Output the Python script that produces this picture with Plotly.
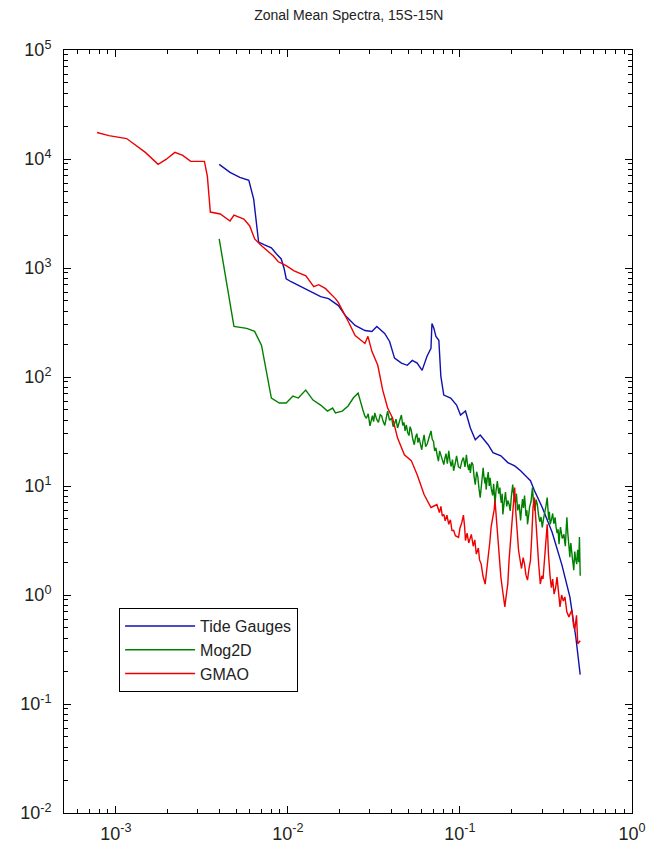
import plotly.graph_objects as go

# ---------------- data ----------------
tide_freq = [3.99e-3, 4.61e-3, 5.26e-3, 5.93e-3, 6.33e-3, 6.59e-3, 6.76e-3, 7.32e-3, 8.02e-3, 8.57e-3,
             9.15e-3, 9.52e-3, 9.78e-3, 1.044e-2, 1.192e-2, 1.36e-2, 1.551e-2, 1.724e-2, 1.967e-2, 2.157e-2,
             2.46e-2, 2.806e-2, 3.078e-2, 3.288e-2, 3.652e-2, 3.902e-2, 4.168e-2, 4.571e-2, 4.946e-2, 5.284e-2,
             5.644e-2, 6.028e-2, 6.438e-2, 6.787e-2, 6.877e-2, 7.061e-2, 7.25e-2, 7.542e-2, 7.744e-2, 8.056e-2,
             8.835e-2, 9.561e-2, 0.1008, 0.1077, 0.115, 0.1228, 0.1312, 0.1458, 0.1557, 0.173,
             0.1897, 0.2081, 0.2252, 0.247, 0.257, 0.2709, 0.301, 0.3434, 0.3917, 0.4354,
             0.4712, 0.5]
tide_power = [8930, 7550, 6790, 6380, 4280, 2430, 1730, 1630, 1530, 1350,
              1210, 984, 797, 748, 673, 607, 546, 524, 452, 366,
              297, 267, 262, 291, 251, 212, 149, 134, 128, 142,
              134, 115, 155, 183, 310, 279, 236, 217, 102, 68.2,
              64.1, 55.3, 44.8, 48.7, 34.1, 26.5, 29.4, 23.9, 20.2, 18.9,
              16.4, 15.3, 13.8, 11.9, 11.2, 9.08, 6.35, 3.76, 1.88, 0.96,
              0.414, 0.186]

mog_freq = [3.99e-3, 4.26e-3, 4.55e-3, 4.86e-3, 5.77e-3, 6.41e-3, 7.03e-3, 7.32e-3, 7.71e-3, 8.02e-3,
            8.92e-3, 9.78e-3, 1.07e-2, 1.15e-2, 1.27e-2, 1.40e-2, 1.55e-2, 1.70e-2, 1.82e-2, 1.89e-2,
            2.07e-2, 2.24e-2, 2.40e-2, 2.56e-2,
            2.73e-2, 2.80e-2, 2.86e-2, 2.93e-2, 3.00e-2, 3.05e-2, 3.10e-2, 3.15e-2, 3.20e-2, 3.28e-2,
            3.36e-2, 3.44e-2, 3.51e-2, 3.58e-2, 3.66e-2, 3.73e-2, 3.80e-2, 3.90e-2, 4.01e-2, 4.09e-2,
            4.17e-2, 4.25e-2, 4.34e-2, 4.45e-2, 4.57e-2, 4.65e-2, 4.73e-2, 4.80e-2, 4.88e-2, 4.97e-2,
            5.06e-2, 5.13e-2, 5.21e-2, 5.32e-2, 5.43e-2, 5.52e-2, 5.62e-2, 5.70e-2, 5.79e-2, 5.90e-2,
            6.00e-2, 6.10e-2, 6.19e-2, 6.32e-2, 6.46e-2, 6.62e-2, 6.79e-2, 6.90e-2, 7.02e-2, 7.13e-2,
            7.25e-2, 7.38e-2, 7.50e-2, 7.62e-2, 7.74e-2, 7.90e-2, 8.06e-2, 8.18e-2, 8.30e-2, 8.45e-2,
            8.61e-2, 8.75e-2, 8.90e-2, 9.05e-2, 9.19e-2, 9.38e-2, 9.56e-2, 9.80e-2, 0.1005, 0.1027,
            0.1048, 0.1070, 0.1091, 0.1108, 0.1125, 0.1138, 0.1150, 0.1170, 0.119, 0.121,
            0.1228, 0.125, 0.127, 0.129, 0.1312, 0.134, 0.1365, 0.138, 0.140, 0.141,
            0.1420, 0.144, 0.146, 0.148, 0.1497, 0.152, 0.155, 0.157, 0.1599, 0.162,
            0.165, 0.168, 0.1708, 0.172, 0.174, 0.176, 0.1776, 0.181, 0.184, 0.187,
            0.1897, 0.193, 0.196, 0.199, 0.2027, 0.206, 0.210, 0.213, 0.2165, 0.221,
            0.2252, 0.228, 0.231, 0.234, 0.2374, 0.240, 0.242, 0.245, 0.2470, 0.251,
            0.254, 0.259, 0.2638, 0.268, 0.273, 0.277, 0.2818, 0.286, 0.291, 0.296,
            0.3010, 0.306, 0.311, 0.316, 0.3215, 0.325, 0.328, 0.331, 0.3345, 0.340,
            0.346, 0.351, 0.3573, 0.362, 0.367, 0.372, 0.3766, 0.380, 0.384, 0.393,
            0.4022, 0.406, 0.410, 0.414, 0.4184, 0.423, 0.427, 0.431, 0.4354, 0.438,
            0.441, 0.450, 0.4589, 0.462, 0.465, 0.471, 0.4775, 0.481, 0.484, 0.490,
            0.495, 0.5]
mog_power = [1850, 984, 524, 291, 279, 262, 195, 139, 84.1, 64.1,
             57.7, 57.7, 66.8, 64.1, 75.8, 61.4, 55.3, 48.7, 51.9, 46.8,
             48.7, 54.2, 64.1, 71.2,
             49.8, 44, 41.8, 46, 35.6, 40, 44.1, 39, 46.8, 41,
             38.3, 45, 43.9, 39, 36.0, 42, 48.7, 40, 42.1, 35,
             37.2, 41, 34.1, 39, 44.8, 36, 38.3, 32, 36.3, 31,
             29.0, 35, 32.7, 27, 23.9, 28, 30.2, 25, 27.7, 24,
             21.5, 26, 29.4, 23, 24.4, 28, 32.0, 27, 25.6, 21,
             22.4, 19, 16.9, 21, 19.3, 17, 15.7, 18, 19.8, 16,
             21.0, 17, 15.1, 17.5, 13.8, 16, 18.9, 15, 14.6, 17,
             18.2, 15, 19.3, 15.5, 14.0, 16, 13.2, 16.5, 15.7, 12,
             10.3, 13.5, 12.2, 9.5, 7.83, 11, 14.7, 12, 10.5, 12,
             9.27, 11.5, 13.4, 10, 11.9, 9.5, 8.2, 10.5, 6.76, 9,
             11.1, 8.5, 9.66, 8, 7.0, 8.5, 5.48, 7.2, 8.8, 6.5,
             7.36, 6.8, 5.9, 8, 10.3, 8, 7.0, 8.5, 5.97, 6.8,
             4.83, 6.2, 7.6, 6.3, 8.17, 6.5, 5.3, 6.0, 4.45, 5.4,
             6.4, 7.2, 9.66, 7.0, 5.9, 7.5, 6.76, 5.5, 4.7, 5.2,
             4.17, 5.0, 5.6, 6.5, 7.83, 5.8, 4.9, 5.8, 4.45, 4.9,
             5.6, 4.5, 5.15, 4.2, 3.7, 4.0, 2.92, 3.6, 4.2, 3.3,
             3.60, 3.1, 2.8, 3.9, 5.15, 3.8, 3.3, 2.6, 2.22, 2.7,
             3.0, 2.2, 1.69, 2.1, 2.5, 2.1, 1.92, 2.4, 2.6, 2.0,
             3.4, 1.5]

gmao_freq = [7.78e-4, 9.12e-4, 1.156e-3, 1.485e-3, 1.762e-3, 1.958e-3, 2.205e-3, 2.45e-3, 2.723e-3, 3.274e-3,
             3.406e-3, 3.543e-3, 4.045e-3, 4.613e-3, 4.863e-3, 5.549e-3, 6.005e-3, 6.414e-3, 7.034e-3, 8.238e-3,
             8.80e-3, 9.779e-3, 1.087e-2, 1.273e-2, 1.414e-2, 1.511e-2, 1.657e-2, 1.770e-2, 1.890e-2, 1.967e-2,
             2.101e-2, 2.244e-2, 2.460e-2, 2.806e-2, 2.920e-2, 3.078e-2, 3.331e-2, 3.558e-2, 3.800e-2, 4.059e-2,
             4.336e-2, 4.756e-2, 5.214e-2, 5.644e-2, 6.189e-2, 6.787e-2, 7.346e-2, 0.0760, 0.0775, 0.0790,
             0.0806, 0.0821, 0.0840, 0.0861, 0.0880, 0.0899, 0.0919, 0.0941, 0.0982, 0.1000,
             0.1025, 0.1048, 0.1065, 0.1077, 0.1100, 0.1125, 0.1165, 0.1195, 0.1220, 0.1245,
             0.128, 0.130, 0.1329, 0.136, 0.1402, 0.143, 0.1458, 0.149, 0.1517, 0.155,
             0.158, 0.1599, 0.163, 0.1663, 0.170, 0.1730, 0.177, 0.180, 0.1824, 0.186,
             0.1897, 0.193, 0.1974, 0.201, 0.205, 0.2081, 0.2110, 0.2150, 0.2190, 0.2223,
             0.2280, 0.2330, 0.2374, 0.2420, 0.2470, 0.2520, 0.2570, 0.2620, 0.2660, 0.2709,
             0.2760, 0.2818, 0.2870, 0.2932, 0.2990, 0.3040, 0.3090, 0.3150, 0.3215, 0.3270,
             0.3310, 0.3345, 0.3400, 0.3460, 0.3526, 0.3600, 0.3667, 0.3740, 0.3815, 0.3900,
             0.3990, 0.4076, 0.4180, 0.4298, 0.4470, 0.4570, 0.4650, 0.4760, 0.4838, 0.5]
gmao_power = [17500, 16400, 15400, 11500, 8930, 9910, 11500, 10800, 9510, 9510,
              6930, 3260, 3130, 2700, 3060, 2810, 2430, 1850, 1600, 1290,
              1140, 1050, 942, 849, 673, 703, 646, 582, 524, 481,
              398, 323, 240, 203, 236, 172, 128, 75.8, 51.9, 42.1,
              27.7, 19.3, 17.1, 12.7, 8.36, 6.35, 6.76, 5.7, 6.5, 5.3,
              5.48, 4.8, 5.4, 4.45, 4.9, 3.9, 3.92, 3.5, 3.38, 4.1,
              4.6, 5.4, 4.2, 3.16, 3.7, 3.0, 3.6, 2.8, 3.2, 2.37,
              2.7, 2.1, 1.92, 1.5, 1.26, 1.6, 2.22, 3.0, 4.17, 5.1,
              6.0, 7.36, 4.7, 2.92, 2.0, 1.46, 1.1, 0.94, 0.778, 1.0,
              1.26, 2.1, 3.38, 5.4, 7.6, 9.66, 5.9, 3.38, 2.6, 2.22,
              1.75, 2.2, 1.92, 1.52, 1.37, 1.75, 2.08, 3.7, 6.4, 7.83,
              4.7, 3.38, 1.9, 1.26, 1.5, 1.4, 1.92, 3.0, 4.45, 2.35,
              1.75, 1.46, 1.17, 1.4, 1.02, 1.17, 1.46, 1.05, 0.778, 1.0,
              0.88, 0.96, 0.70, 0.63, 0.73, 0.53, 0.48, 0.65, 0.357, 0.38]

series_names = ["Tide Gauges", "Mog2D", "GMAO"]
series_colors = ["#1010B0", "#008000", "#EE0000"]

x_tick_vals = [1e-3, 1e-2, 1e-1, 1e0]
x_tick_text = ["10<sup>-3</sup>", "10<sup>-2</sup>", "10<sup>-1</sup>", "10<sup>0</sup>"]
y_tick_vals = [1e-2, 1e-1, 1e0, 1e1, 1e2, 1e3, 1e4, 1e5]
y_tick_text = ["10<sup>-2</sup>", "10<sup>-1</sup>", "10<sup>0</sup>", "10<sup>1</sup>",
               "10<sup>2</sup>", "10<sup>3</sup>", "10<sup>4</sup>", "10<sup>5</sup>"]

x_minor = [m * 10.0 ** e for e in range(-4, 0) for m in range(2, 10)]
y_minor = [m * 10.0 ** e for e in range(-2, 5) for m in range(2, 10)]

fig = go.Figure()
for name, xs, ys, col in zip(series_names, [tide_freq, mog_freq, gmao_freq],
                             [tide_power, mog_power, gmao_power], series_colors):
    fig.add_trace(go.Scatter(x=xs, y=ys, mode="lines", name=name,
                             line=dict(color=col, width=1.4)))

font_family = "Liberation Sans, Arial, sans-serif"
axis_common = dict(
    type="log", showgrid=False, zeroline=False, showline=True, linecolor="black",
    linewidth=1, mirror="allticks", ticks="inside", ticklen=7, tickcolor="black",
    tickmode="array", tickfont=dict(size=18, family=font_family, color="#222"),
)
fig.update_xaxes(**axis_common, range=[-3.301, 0], tickvals=x_tick_vals, ticktext=x_tick_text,
                 ticklabelstandoff=4,
                 minor=dict(ticks="inside", ticklen=4, tickcolor="black", tickvals=x_minor))
fig.update_yaxes(**axis_common, range=[-2, 5], tickvals=y_tick_vals, ticktext=y_tick_text,
                 ticklabelstandoff=8,
                 minor=dict(ticks="inside", ticklen=4, tickcolor="black", tickvals=y_minor))

fig.update_layout(
    width=658, height=856,
    margin=dict(l=64, r=17, t=50, b=39),
    paper_bgcolor="white", plot_bgcolor="white",
    title=dict(text="Zonal Mean Spectra, 15S-15N", x=0.53, xanchor="center", y=0.982,
               yanchor="middle", font=dict(size=14, family=font_family, color="#222")),
    legend=dict(x=0.097, y=0.2686, xanchor="left", yanchor="top",
                bgcolor="white", bordercolor="black", borderwidth=1,
                font=dict(size=16, family=font_family, color="#222"),
                itemwidth=70, tracegroupgap=0),
    showlegend=True,
)

fig.write_html("out.html")
